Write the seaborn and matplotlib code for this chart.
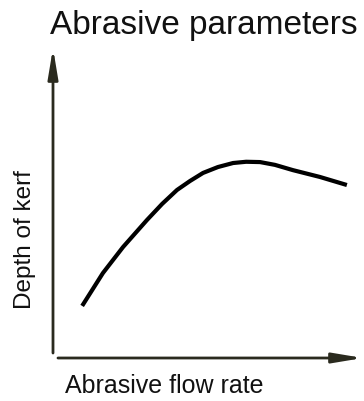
import matplotlib
matplotlib.use("Agg")
import matplotlib.pyplot as plt
import seaborn as sns
import pandas as pd

# Qualitative relationship: depth of kerf vs abrasive flow rate
flow_rate = [9.4, 16.1, 22.6, 30.3, 35.2, 40.0, 44.2, 48.4, 53.2, 58.1, 62.3, 66.8, 71.6, 77.4, 86.1, 94.8]
kerf_depth = [16.8, 27.4, 35.8, 44.5, 49.7, 54.2, 57.1, 59.7, 61.6, 62.9, 63.3, 63.2, 62.3, 60.6, 58.4, 55.8]

title_text = "Abrasive parameters"
x_label = "Abrasive flow rate"
y_label = "Depth of kerf"

sns.set_theme(style="white")
plt.rcParams["font.family"] = ["Liberation Sans", "DejaVu Sans"]

W, H = 364, 401
fig = plt.figure(figsize=(W / 100, H / 100), dpi=100)
fig.patch.set_facecolor("white")

# axes frame: x 53..363 px, y 48..358 px (from top)
ax = fig.add_axes([53 / W, (H - 358) / H, 310 / W, 310 / H])
ax.set_xlim(0, 100)
ax.set_ylim(0, 100)
ax.axis("off")

df = pd.DataFrame({"flow": flow_rate, "depth": kerf_depth})
sns.lineplot(data=df, x="flow", y="depth", ax=ax, color="black",
             linewidth=3.0, sort=False, estimator=None,
             solid_capstyle="butt", solid_joinstyle="round")

axis_col = "#2a2a1e"
arrow = "-|>,head_length=1.5,head_width=0.25"
# vertical axis arrow
ax.annotate("", xy=(0, 1.0), xytext=(0, 0.016), xycoords="axes fraction",
            arrowprops=dict(arrowstyle=arrow, color=axis_col, lw=2.0,
                            shrinkA=0, shrinkB=0),
            annotation_clip=False)
# horizontal axis arrow
ax.annotate("", xy=(1.0, 0), xytext=(0.016, 0), xycoords="axes fraction",
            arrowprops=dict(arrowstyle=arrow, color=axis_col, lw=2.0,
                            shrinkA=0, shrinkB=0),
            annotation_clip=False)

fig.text(50 / W, 1 - 34 / H, title_text, fontsize=24, color="#111111",
         ha="left", va="baseline")
fig.text(65 / W, 1 - 393 / H, x_label, fontsize=18, color="#111111",
         ha="left", va="baseline")
fig.text(25 / W, 1 - 240 / H, y_label, fontsize=17.5, color="#111111",
         ha="center", va="center", rotation=90)

fig.savefig("out.png", dpi=100, facecolor="white")
